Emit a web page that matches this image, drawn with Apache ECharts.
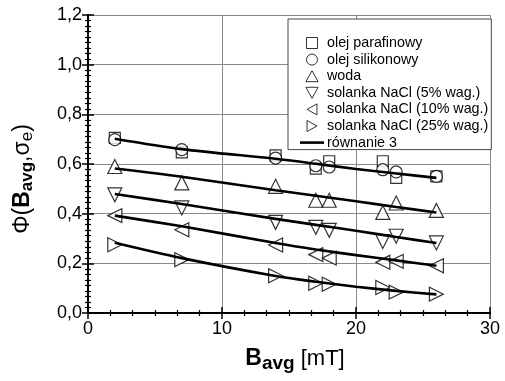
<!DOCTYPE html>
<html>
<head>
<meta charset="utf-8">
<script src="https://cdn.jsdelivr.net/npm/echarts@6/dist/echarts.min.js"></script>
<style>
  html, body { margin: 0; padding: 0; background: #fff; }
  #chart { width: 505px; height: 381px; }
</style>
</head>
<body>
<div id="chart"></div>
<script>
// B_avg [mT] of the measured points
const bAvg = [2, 7, 14, 17, 18, 22, 23, 26];

const olejParafinowy = [0.705, 0.647, 0.635, 0.581, 0.611, 0.611, 0.544, 0.55];
const olejSilikonowy = [0.698, 0.658, 0.624, 0.593, 0.588, 0.577, 0.568, 0.55];
const woda = [0.59, 0.524, 0.51, 0.454, 0.454, 0.405, 0.443, 0.413];
const solanka5 = [0.476, 0.423, 0.365, 0.345, 0.333, 0.288, 0.309, 0.282];
const solanka10 = [0.392, 0.335, 0.274, 0.235, 0.221, 0.204, 0.208, 0.19];
const solanka25 = [0.275, 0.215, 0.15, 0.12, 0.116, 0.103, 0.084, 0.076];

// "równanie 3" curves
const fitX = [2, 7, 14, 17, 20, 23, 26];
const fitOleje = [0.702, 0.66, 0.621, 0.601, 0.58, 0.562, 0.544];
const fitWoda = [0.582, 0.549, 0.494, 0.472, 0.45, 0.427, 0.405];
const fitSolanka5 = [0.479, 0.439, 0.379, 0.355, 0.331, 0.306, 0.282];
const fitSolanka10 = [0.392, 0.349, 0.282, 0.256, 0.233, 0.212, 0.19];
const fitSolanka25 = [0.283, 0.221, 0.149, 0.126, 0.106, 0.089, 0.075];

const xTicks = [0, 10, 20, 30];
const yTicks = [0, 0.2, 0.4, 0.6, 0.8, 1.0, 1.2];

const names = ['olej parafinowy', 'olej silikonowy', 'woda',
  'solanka NaCl (5% wag.)', 'solanka NaCl (10% wag.)', 'solanka NaCl (25% wag.)'];
const fitName = 'równanie 3';

const pairs = (xs, ys) => xs.map((x, i) => [x, ys[i]]);

const chart = echarts.init(document.getElementById('chart'), null, { renderer: 'canvas' });

const font = 'Liberation Sans, Arial, sans-serif';
const markStyle = { color: '#fff', borderColor: '#000', borderWidth: 1.2 };

// legend icons (builtin ones get stretched to itemWidth)
const icons = [
  'path://M0,0H10V10H0Z',
  'circle',
  'path://M5,0L10,9L0,9Z',
  'path://M0,0L10,0L5,9Z',
  'path://M0,5L9,0L9,10Z',
  'path://M0,0L9,5L0,10Z',
];

function scatter(name, data, symbol, rotate, size) {
  return {
    name,
    type: 'scatter',
    symbol,
    symbolSize: size,
    symbolRotate: rotate,
    itemStyle: markStyle,
    data: pairs(bAvg, data),
    z: 3,
  };
}

function fit(data) {
  return {
    name: fitName,
    type: 'line',
    smooth: 0.3,
    symbol: 'none',
    lineStyle: { color: '#000', width: 2.6 },
    itemStyle: { color: '#000' },
    data: pairs(fitX, data),
    z: 4,
  };
}

const frameAxis = {
  min: 0,
  axisLine: { show: true, lineStyle: { color: '#000', width: 2 } },
  axisTick: { show: true, inside: true, length: 6, lineStyle: { color: '#000', width: 1.5 } },
  minorTick: { show: true, length: 3, lineStyle: { color: '#000', width: 1.2 } },
  splitLine: { show: false },
  axisLabel: { show: false },
};

chart.setOption({
  animation: false,
  backgroundColor: '#fff',
  textStyle: { fontFamily: font },
  grid: { left: 88, right: 15, top: 15, bottom: 68 },
  legend: {
    orient: 'vertical',
    left: 288,
    top: 19,
    padding: [17, 3, 0, 12],
    itemWidth: 24,
    itemHeight: 11,
    itemGap: 2.6,
    symbolKeepAspect: true,
    backgroundColor: '#fff',
    borderColor: '#444',
    borderWidth: 1,
    borderRadius: 0,
    textStyle: { fontFamily: font, fontSize: 14.3, color: '#000', padding: [0, 0, 0, -2] },
    data: [
      ...names.map((n, i) => ({ name: n, icon: icons[i], itemStyle: { color: '#fff', borderColor: '#000', borderWidth: 1 } })),
      { name: fitName, icon: 'path://M0,0H24V2.6H0Z', itemStyle: { color: '#000', borderWidth: 0 } },
    ],
  },
  xAxis: [
    {
      ...frameAxis,
      type: 'value',
      max: 30,
      interval: 10,
      position: 'bottom',
      minorTick: { ...frameAxis.minorTick, splitNumber: 6 },
      splitLine: { show: true, lineStyle: { color: '#8a8a8a', width: 1 } },
      axisLabel: {
        show: true,
        color: '#000',
        fontSize: 18,
        fontFamily: font,
        margin: 7,
        formatter: (v) => (xTicks.includes(v) ? String(v) : ''),
      },
      name: '{b|B}{bs|avg}{r| [mT]}',
      nameLocation: 'middle',
      nameGap: 31,
      nameTextStyle: {
        padding: [0, 0, 0, 12],
        rich: {
          b: { fontFamily: font, fontSize: 23, fontWeight: 'bold', color: '#000' },
          bs: { fontFamily: font, fontSize: 19, fontWeight: 'bold', color: '#000', padding: [10, 0, 0, 0] },
          r: { fontFamily: font, fontSize: 22, color: '#000' },
        },
      },
    },
    { ...frameAxis, type: 'value', max: 30, interval: 10, position: 'top',
      minorTick: { ...frameAxis.minorTick, splitNumber: 6 } },
  ],
  yAxis: [
    {
      ...frameAxis,
      type: 'value',
      max: 1.2,
      interval: 0.2,
      position: 'left',
      minorTick: { ...frameAxis.minorTick, splitNumber: 9 },
      splitLine: { show: true, lineStyle: { color: '#8a8a8a', width: 1 } },
      axisLabel: {
        show: true,
        color: '#000',
        fontSize: 18,
        fontFamily: font,
        margin: 6,
        formatter: (v) => {
          const t = yTicks.find((y) => Math.abs(y - v) < 1e-6);
          return t === undefined ? '' : t.toFixed(1).replace('.', ',');
        },
      },
      name: '{r|Φ(}{b|B}{bs|avg}{r|,σ}{s|e}{r|)}',
      nameLocation: 'middle',
      nameRotate: 90,
      nameGap: 52,
      nameTextStyle: {
        padding: [0, 30, 0, 0],
        rich: {
          r: { fontFamily: font, fontSize: 23, color: '#000' },
          b: { fontFamily: font, fontSize: 23, fontWeight: 'bold', color: '#000' },
          bs: { fontFamily: font, fontSize: 17, fontWeight: 'bold', color: '#000', padding: [10, 0, 0, 0] },
          s: { fontFamily: font, fontSize: 17, color: '#000', padding: [10, 0, 0, 0] },
        },
      },
    },
    { ...frameAxis, type: 'value', max: 1.2, interval: 0.2, position: 'right',
      minorTick: { ...frameAxis.minorTick, splitNumber: 9 } },
  ],
  series: [
    scatter(names[0], olejParafinowy, 'rect', 0, 11),
    scatter(names[1], olejSilikonowy, 'circle', 0, 12),
    scatter(names[2], woda, 'triangle', 0, 14),
    scatter(names[3], solanka5, 'triangle', 180, 14),
    scatter(names[4], solanka10, 'triangle', 90, 14),
    scatter(names[5], solanka25, 'triangle', -90, 14),
    fit(fitOleje),
    fit(fitWoda),
    fit(fitSolanka5),
    fit(fitSolanka10),
    fit(fitSolanka25),
  ],
});
</script>
</body>
</html>
